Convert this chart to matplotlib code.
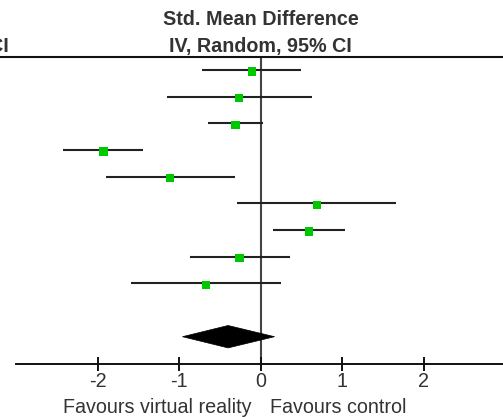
import matplotlib
matplotlib.use("Agg")
import matplotlib.pyplot as plt
from matplotlib.patches import Polygon

# ---- data (Std. Mean Difference, IV, Random, 95% CI) ----
smd = [-0.11, -0.27, -0.31, -1.93, -1.11, 0.69, 0.59, -0.26, -0.67]
ci_low = [-0.72, -1.15, -0.65, -2.42, -1.90, -0.29, 0.15, -0.87, -1.59]
ci_high = [0.49, 0.63, 0.03, -1.44, -0.32, 1.66, 1.03, 0.36, 0.25]
total_smd, total_low, total_high = -0.40, -0.96, 0.17
tick_values = [-2, -1, 0, 1, 2]
tick_labels = ["-2", "-1", "0", "1", "2"]
title_lines = ["Std. Mean Difference", "IV, Random, 95% CI"]
left_label = "Favours virtual reality"
right_label = "Favours control"

FONT = "Liberation Sans"
TXT = "#333333"
FS = 14.2
GREEN = "#00c800"

W, H, DPI = 503, 417, 100
fig = plt.figure(figsize=(W / DPI, H / DPI), dpi=DPI)
axis_px = 364.3
ax = fig.add_axes([0, (H - axis_px) / H, 1, axis_px / H])

# x: px -> value ; 0 at 260.7, 81.5 px per unit
x0, sc = 260.7, 81.5
ax.set_xlim((0 - x0) / sc, (W - x0) / sc)
# y in row units: row 1 at px 70, 26.67 px per row
def row(px):
    return 1 + (px - 70) / 26.67
ax.set_ylim(row(axis_px), row(0))

for s in ["top", "left", "right"]:
    ax.spines[s].set_visible(False)
ax.spines["bottom"].set_bounds(-3, 3)
ax.spines["bottom"].set_linewidth(1.4)
ax.spines["bottom"].set_color("#111111")
ax.set_yticks([])
ax.set_xticks(tick_values)
ax.set_xticklabels(tick_labels, fontfamily=FONT, fontsize=FS, color=TXT)
ax.tick_params(axis="x", direction="inout", length=9.6, width=1.4,
               color="#111111", pad=1)

rows = list(range(1, len(smd) + 1))
total_row = len(smd) + 2

# zero line and header line
ax.plot([0, 0], [row(57), row(axis_px)], color="#444444", lw=1.5,
        solid_capstyle="butt", zorder=1, clip_on=False)
ax.plot([-10, 10], [row(57), row(57)], color="#111111", lw=1.5,
        zorder=1, clip_on=False)

# studies
for r, m, lo, hi in zip(rows, smd, ci_low, ci_high):
    ax.plot([lo, hi], [r, r], color="#222222", lw=1.5,
            solid_capstyle="butt", zorder=2)
ax.scatter(smd, [r + 0.06 for r in rows], marker="s", s=36, color=GREEN,
           edgecolors="none", zorder=3)

# total diamond
h = 0.42
ax.add_patch(Polygon([(total_low, total_row), (total_smd, total_row - h),
                      (total_high, total_row), (total_smd, total_row + h)],
                     closed=True, facecolor="black", edgecolor="black",
                     lw=0.5, zorder=3))

# header titles
ax.text(0, row(25), title_lines[0], ha="center", va="baseline",
        fontfamily=FONT, fontsize=FS, fontweight="bold", color=TXT)
ax.text(0, row(51.7), title_lines[1], ha="center", va="baseline",
        fontfamily=FONT, fontsize=FS, fontweight="bold", color=TXT)
ax.text((8.5 - x0) / sc, row(51.7), "95% CI", ha="right", va="baseline",
        fontfamily=FONT, fontsize=FS, fontweight="bold", color=TXT,
        clip_on=False)

# favours labels
ax.text((251.7 - x0) / sc, row(413), left_label, ha="right", va="baseline",
        fontfamily=FONT, fontsize=FS, color=TXT, clip_on=False)
ax.text((270 - x0) / sc, row(413), right_label, ha="left", va="baseline",
        fontfamily=FONT, fontsize=FS, color=TXT, clip_on=False)

fig.savefig("out.png", dpi=DPI, facecolor="white")
